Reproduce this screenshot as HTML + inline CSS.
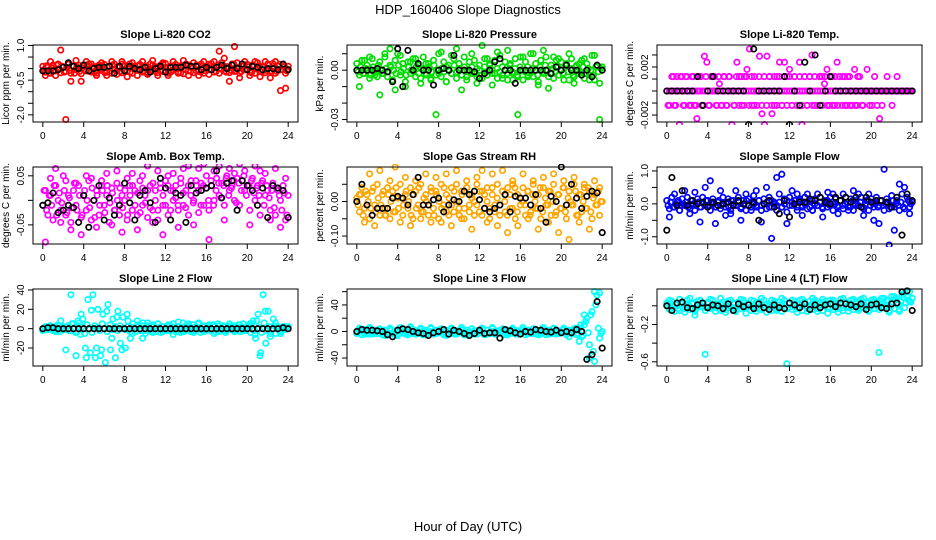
<!DOCTYPE html>
<html><head><meta charset="utf-8"><title>HDP_160406 Slope Diagnostics</title>
<style>
html,body{margin:0;padding:0;background:#fff;}
svg{display:block;font-family:"Liberation Sans",Arial,sans-serif;}
</style></head>
<body>
<svg id="chart" width="936" height="540" viewBox="0 0 936 540">
<text x="468" y="14" text-anchor="middle" font-size="13">HDP_160406  Slope Diagnostics</text>
<text x="468" y="531" text-anchor="middle" font-size="13">Hour of Day (UTC)</text>
</svg>
<script>
const xTicks=[0,4,8,12,16,20,24];
const titles=["Slope Li-820 CO2","Slope Li-820 Pressure","Slope Li-820 Temp.","Slope Amb. Box Temp.","Slope Gas Stream RH","Slope Sample Flow","Slope Line 2 Flow","Slope Line 3 Flow","Slope Line 4 (LT) Flow"];
const yTitles=["Licor ppm per min.","kPa per min.","degrees C per min.","degrees C per min.","percent per min.","ml/min per min.","ml/min per min.","ml/min per min.","ml/min per min."];
const colors=["#ff0000","#00dd00","#ff00ff","#ff00ff","#ffa500","#0000ff","#00ffff","#00ffff","#00ffff"];
const yRanges=[[-2.31,1.02],[-0.0315,0.0153],[-0.00258,0.00383],[-0.089,0.068],[-0.123,0.10],[-1.22,1.12],[-38.6,41],[-52,64],[-0.645,0.18]];
const yTicks=[[-2,-1.5,-1,-0.5,0,0.5,1],[-0.03,-0.02,-0.01,0,0.01],[-0.002,-0.001,0,0.001,0.002,0.003],[-0.05,0,0.05],[-0.1,-0.05,0,0.05],[-1,-0.5,0,0.5,1],[-20,0,20,40],[-40,-20,0,20,40,60],[-0.6,-0.4,-0.2,0]];
const yLabelVals=[[-2,-0.5,1],[-0.03,0],[-0.002,0.002],[-0.05,0.05],[-0.1,0],[-1,0,1],[-20,0,20,40],[-40,0,40],[-0.6,-0.2]];
const yLabelText=[["-2.0","-0.5","1.0"],["-0.03","0.00"],["-0.002","0.002"],["-0.05","0.05"],["-0.10","0.00"],["-1.0","0.0","1.0"],["-20","0","20","40"],["-40","0","40"],["-0.6","-0.2"]];

const main1=[0.1,-0.15,0.05,-0.2,0.15,-0.1,0.2,-0.18,0.08,-0.12,0.18,-0.2,0.1,-0.05,0.15,-0.22,0.12,-0.1,0.2,-0.15,0.05,-0.2,0.15,-0.08,0.18,-0.15,0.1,-0.2,0.2,-0.1,0.05,-0.18,0.15,-0.12,0.2,-0.2,0.1,-0.05,0.18,-0.15,0.12,-0.2,0.2,-0.1,0.08,-0.18,0.15,-0.12,0.22,-0.2,0.1,-0.08,0.18,-0.15,0.12,-0.22,0.2,-0.1,0.05,-0.18,0.15,-0.12,0.2,-0.2,0.1,-0.05,0.22,-0.15,0.12,-0.2,0.25,-0.1,0.08,-0.18,0.2,-0.12,0.25,-0.2,0.1,-0.05,0.18,-0.15,0.15,-0.2,0.25,-0.1,0.08,-0.18,0.2,-0.12,0.22,-0.2,0.1,-0.05,0.15,-0.2,0.1];
const dense1=[-0.05,0.12,-0.18,0.02,-0.1,0.15,-0.02,0.1,-0.15,0.05,-0.08,0.12,-0.2,0.08,-0.12,0.02,-0.05,0.15,-0.1,0.08,-0.15,0.1,-0.02,0.12,-0.18,0.05,-0.1,0.15,-0.05,0.08,-0.12,0.2,-0.08,0.05,-0.15,0.1,-0.02,0.12,-0.1,0.05,-0.15,0.08,-0.05,0.15,-0.12,0.02,-0.08,0.18,-0.1,0.05,-0.15,0.12,-0.02,0.08,-0.18,0.1,-0.05,0.15,-0.12,0.05,-0.08,0.12,-0.15,0.02,-0.1,0.18,-0.05,0.08,-0.12,0.15,-0.02,0.1,-0.15,0.05,-0.08,0.2,-0.1,0.05,-0.12,0.15,-0.05,0.08,-0.18,0.1,-0.02,0.12,-0.15,0.05,-0.08,0.15,-0.1,0.02,-0.12,0.18,-0.05,0.08,-0.1];
const extra1=[-0.3,0.3,-0.3,0.8,-2.2,-0.55,0.35,-0.55,0.3,0.2,-0.3,0.25,-0.3,0.3,-0.25,0.3,-0.35,0.25,-0.3,0.3,-0.25,0.35,-0.3,0.25,-0.3,0.3,-0.2,0.35,-0.3,0.25,-0.3,0.3,-0.25,0.3,0.75,0.45,-0.55,0.95,-0.4,0.3,-0.3,0.3,-0.35,0.3,-0.4,0.3,-0.95,-0.85];
const black1=[-0.1,-0.1,-0.1,-0.05,0.05,0.25,0.1,0,0.15,-0.1,0,0.05,0.05,0.1,-0.2,0.1,-0.1,0.1,0,-0.05,0.05,-0.15,0,0.1,-0.15,0.05,0.05,0.05,0.15,0.1,0.1,-0.05,0.05,-0.05,0.05,0.15,0,0.15,0,0.2,-0.05,0.1,0.05,-0.05,0,0,-0.05,0.2,-0.05];

const main2=[0.004,-0.003,0.006,-0.002,0.003,-0.005,0.007,0,-0.004,0.005,-0.002,0.008,-0.004,0.003,-0.006,0.006,0.01,-0.003,0.004,-0.007,0.005,-0.002,0.007,-0.004,0.003,-0.005,0.008,-0.002,0.004,-0.006,0.006,-0.003,0.01,-0.004,0.005,-0.007,0.003,-0.002,0.007,-0.005,0.004,-0.003,0.008,-0.006,0.005,-0.002,0.006,-0.004,0.003,-0.005,0.007,-0.003,0.004,-0.002,0.006,-0.005,0.009,-0.003,0.005,-0.006,0.004,-0.002,0.007,-0.004,0.008,-0.006,0.005,-0.003,0.01,-0.004,0.004,-0.007,0.006,-0.002,0.008,-0.004,0.003,-0.005,0.006,-0.003,0.005,-0.002,0.004,-0.006,0.007,-0.004,0.003,-0.002,0.006,-0.005,0.004,-0.003,0.009,-0.006,0.003,-0.008,0.002];
const dense2=[-0.001,0.002,-0.002,0.001,0,-0.003,0.002,-0.001,0.003,0,-0.002,0.001,-0.001,0.002,0,-0.002,0.003,-0.001,0.001,-0.003,0.002,0,-0.001,0.002,-0.002,0.001,0,-0.003,0.002,-0.001,0.003,0,-0.002,0.001,-0.001,0.002,0,-0.002,0.003,-0.001,0.001,-0.003,0.002,0,-0.001,0.002,-0.002,0.001,0,-0.003,0.002,-0.001,0.003,0,-0.002,0.001,-0.001,0.002,0,-0.002,0.003,-0.001,0.001,-0.003,0.002,0,-0.001,0.002,-0.002,0.001,0,-0.003,0.002,-0.001,0.003,0,-0.002,0.001,-0.001,0.002,0,-0.002,0.003,-0.001,0.001,-0.003,0.002,0,-0.001,0.002,-0.002,0.001,0,-0.003,0.002,-0.001,0.001];
const extra2=[-0.01,0.006,0.008,-0.003,-0.015,0.01,0.013,-0.012,0.009,-0.01,0.005,0.007,-0.008,0.004,-0.005,-0.027,0.011,-0.007,0.009,0.013,-0.012,-0.004,0.01,-0.008,0.015,0.007,-0.009,0.011,-0.005,0.012,-0.006,-0.027,0.008,-0.004,0.01,-0.009,0.012,-0.011,0.008,0.007,-0.006,0.01,-0.008,0.004,0.007,-0.006,0.009,-0.03];
const black2=[0,0,0,0,0.001,0,-0.001,-0.007,0.013,-0.01,0.012,0,0.004,0,0,-0.009,0,0.001,0,0.009,0,0,0,-0.001,-0.005,-0.002,0,0.005,0.007,0,0,-0.008,0,0,0,0,0,0,-0.002,0.002,0,0.003,0,0,-0.003,0,-0.004,0.003,0];

const main3=[0,0,0,0,0,0,0,0,0,0,0,0,0,0,0,0,0,0,0,0,0,0,0,0,0,0,0,0,0,0,0,0,0,0,0,0,0,0,0,0,0,0,0,0,0,0,0,0,0,0,0,0,0,0,0,0,0,0,0,0,0,0,0,0,0,0,0,0,0,0,0,0,0,0,0,0,0,0,0,0,0,0,0,0,0,0,0,0,0,0,0,0,0,0,0,0,0];
const dense3=[-0.0012,0,0.0012,-0.0012,0,0.0012,-0.0012,0.0012,0,-0.0012,0.0012,-0.0012,0,0.0012,-0.0012,0.0012,-0.0012,0.0012,0,-0.0012,0.0012,-0.0012,0.0012,-0.0012,0.0012,0,-0.0012,0.0012,-0.0012,0.0012,-0.0012,0.0012,-0.0012,0.0012,-0.0012,0,0.0012,-0.0012,0.0012,-0.0012,0.0012,-0.0012,0.0012,-0.0012,0.0012,-0.0012,0.0012,-0.0012,0.0012,-0.0012,0.0012,-0.0012,0.0012,-0.0012,0.0012,-0.0012,0.0012,-0.0012,0.0012,-0.0012,0.0012,-0.0012,0.0012,-0.0012,0.0012,-0.0012,0.0012,-0.0012,0,0.0012,-0.0012,0.0012,-0.0012,0,-0.0012,0.0012,0,-0.0012,0,0,0,0,0,0,0,0,0,0,0,0,0,0,0,0,0,0,0];
const extra3=[-0.0012,0.0012,-0.0012,0.0012,-0.0028,0.0012,-0.0012,0.0012,-0.0012,0.0012,-0.0012,-0.0023,0.0012,-0.0012,0.0029,0.0024,-0.0012,0.0012,0.0012,-0.0012,0.0006,-0.0012,0.0012,-0.0012,0.0012,-0.0028,-0.0012,0.0024,0.0012,-0.0012,0.0012,0.0018,0.0035,-0.0012,0.0012,-0.0012,0.0029,-0.0019,-0.0028,0.0029,0.0012,-0.0019,-0.0012,0.0012,0.0024,-0.0012,0.0024,0.0012,0.0018,-0.0012,0.0012,-0.0012,0.0024,-0.0028,0.0012,-0.0012,0.0012,0.003,-0.0012,-0.0012,0.0012,0.0012,0.0006,0.0018,-0.0012,0.0012,-0.0012,0.0024,0.0012,-0.0012,0.0012,-0.0012,0.0012,-0.0012,0.0018,-0.0012,0.0012,-0.0012,0,0.0018,-0.0012,-0.0012,0.0012,-0.0012,-0.0023,-0.0012,0,0.0012,0,-0.0012,0,0.0012,0,0,0,0,0];
const black3=[0,0,0,0,0,0,0.0012,-0.0012,0,0.0012,0,0,0,0,0,0,-0.0028,0.0035,0,0,0,0,0,0.0012,-0.0028,0,-0.0012,0.0024,0,0.003,-0.0012,0,0.0012,0,0,0,0,0,0,0,0,0,0,0,0,0,0,0,0];

const main4=[-0.01,0.02,-0.03,0.01,-0.04,0.03,0,-0.02,0.05,-0.03,0.01,-0.045,0.02,-0.01,0.03,-0.035,0.01,-0.02,0.04,-0.04,0,0.02,-0.03,0.03,-0.01,0.01,-0.045,0.025,-0.02,0.035,-0.03,0.01,0,-0.04,0.03,-0.02,0.02,-0.03,0.04,-0.01,0.01,-0.035,0.03,-0.02,0.02,-0.04,0.035,-0.01,0.04,-0.03,0.02,0,0.03,-0.02,0.045,-0.01,0.02,-0.03,0.04,0,0.03,-0.025,0.035,-0.01,0.05,-0.02,0.03,0,0.045,0.01,0.035,-0.01,0.05,0.02,0.03,0,0.045,-0.01,0.04,0.02,0.03,-0.02,0.045,0,0.03,-0.03,0.04,0.01,0.02,-0.02,0.035,-0.03,0.02,0,0.03,-0.04,0.01];
const dense4=[0.02,-0.02,0.01,-0.01,0.03,-0.03,0.015,-0.005,0.02,-0.025,0.005,-0.015,0.035,-0.02,0.01,-0.03,0.02,0,-0.015,0.025,-0.035,0.01,-0.01,0.02,-0.025,0.03,-0.005,0.015,-0.02,0,0.025,-0.015,0.02,-0.03,0.01,0.03,-0.01,0.015,-0.025,0.025,-0.005,0.02,-0.015,0.035,0,-0.02,0.025,0.01,-0.01,0.03,-0.02,0.02,0.005,-0.01,0.035,0.015,-0.015,0.03,0.01,-0.005,0.04,0.02,-0.01,0.03,0.025,0,0.04,-0.01,0.02,0.035,0.005,0.03,0.045,0.01,0.025,0.04,-0.005,0.035,0.02,0.05,0.01,0.03,0.04,0.015,0.025,0.01,0.035,-0.01,0.03,0.005,0.02,-0.015,0.025,0.01,-0.02,0.015,-0.03];
const extra4=[-0.085,0.045,0.065,-0.045,0.04,-0.06,0.035,-0.07,0.05,0.045,-0.055,0.04,0.055,-0.05,0.06,-0.065,0.045,0.055,-0.06,0.05,0.07,-0.045,0.06,-0.07,0.05,0.055,-0.055,0.065,0.07,-0.05,0.065,0.075,-0.08,0.06,0.07,-0.04,0.065,0.055,0.075,0.06,-0.05,0.07,0.06,0.055,-0.04,0.065,-0.055,0.045];
const black4=[-0.01,-0.005,0.015,-0.025,-0.02,-0.01,-0.015,-0.045,0.01,-0.055,0,0.03,-0.04,0.005,-0.03,-0.01,0.035,-0.005,-0.04,0.01,0.02,-0.005,-0.045,0.045,0.025,-0.04,0.015,0.01,-0.045,0.03,0.015,0.02,0.025,0.03,0.06,0.005,0.035,0.04,-0.02,0.04,0.03,0.02,-0.01,0.025,-0.035,0.03,0.025,0.02,-0.035];

const main5=[0.01,-0.03,0.04,-0.02,0.02,-0.05,0.03,-0.01,0.05,-0.04,0.02,-0.02,0.04,-0.05,0.03,-0.03,0.01,0.05,-0.04,0.02,-0.02,0.04,-0.05,0.03,-0.01,0.05,-0.03,0.02,-0.04,0.04,-0.02,0.03,-0.05,0.05,-0.01,0.02,-0.04,0.04,-0.03,0.05,-0.02,0.03,-0.05,0.04,-0.01,0.02,-0.04,0.05,-0.03,0.03,-0.02,0.04,-0.05,0.02,-0.01,0.05,-0.04,0.03,-0.03,0.04,-0.02,0.05,-0.05,0.02,-0.01,0.04,-0.04,0.03,-0.03,0.05,-0.02,0.02,-0.05,0.04,-0.01,0.03,-0.04,0.05,-0.03,0.02,-0.02,0.04,-0.05,0.03,-0.01,0.05,-0.04,0.02,-0.03,0.04,-0.02,0.03,-0.05,0.02,-0.01,0.04,0];
const dense5=[-0.01,0.02,-0.04,0.03,0,-0.02,0.04,-0.03,0.01,-0.01,0.03,-0.04,0.02,0,-0.03,0.04,-0.02,0.01,-0.01,0.03,0,-0.04,0.02,-0.02,0.04,-0.03,0.01,0,-0.01,0.03,-0.04,0.02,0,-0.02,0.04,-0.03,0.01,-0.01,0.03,0,-0.04,0.02,-0.02,0.04,-0.03,0.01,0,-0.01,0.03,-0.04,0.02,0,-0.02,0.04,-0.03,0.01,-0.01,0.03,0,-0.04,0.02,-0.02,0.04,-0.03,0.01,0,-0.01,0.03,-0.04,0.02,0,-0.02,0.04,-0.03,0.01,-0.01,0.03,0,-0.04,0.02,-0.02,0.04,-0.03,0.01,0,-0.01,0.03,-0.04,0.02,0,-0.02,0.04,-0.03,0.01,-0.01,0.03,0];
const extra5=[0.02,-0.06,0.08,-0.07,0.09,-0.04,0.06,0.1,-0.06,0.07,-0.07,0.06,-0.05,0.08,-0.06,0.07,-0.06,0.08,-0.07,0.09,-0.05,0.06,-0.08,0.07,0.09,-0.06,0.08,-0.07,0.09,-0.09,0.06,-0.07,0.08,-0.05,0.06,-0.08,0.07,-0.06,0.08,-0.09,0.06,-0.11,0.07,-0.06,0.05,-0.08,0.06,-0.04];
const black5=[0,0.05,-0.01,-0.04,-0.02,-0.02,-0.02,0.01,0.015,0.01,-0.01,0.02,0.07,-0.01,-0.01,0.005,0.01,-0.03,-0.01,0.005,0,0.03,0.02,0.03,0.005,-0.02,-0.03,-0.02,-0.01,0.02,-0.03,0.015,0.01,0.01,-0.01,0.02,-0.02,-0.06,0.015,0,0.1,-0.01,0.05,0.01,-0.02,0.015,0.03,0.025,-0.09];

const main6=[0.1,-0.15,0.2,-0.1,0.05,-0.2,0.15,-0.05,0.2,-0.15,0.1,-0.2,0.15,-0.1,0.2,-0.05,0.1,-0.2,0.15,-0.1,0.05,-0.15,0.2,-0.1,0.15,-0.2,0.1,-0.05,0.2,-0.15,0.1,-0.2,0.15,-0.1,0.25,-0.05,0.1,-0.2,0.15,-0.15,0.2,-0.1,0.05,-0.2,0.3,-0.1,0.15,-0.25,0.2,-0.05,0.1,-0.2,0.15,-0.1,0.2,-0.15,0.1,-0.2,0.15,-0.05,0.2,-0.15,0.1,-0.1,0.2,-0.2,0.15,-0.05,0.1,-0.15,0.2,-0.1,0.15,-0.2,0.1,-0.05,0.2,-0.15,0.1,-0.2,0.15,-0.1,0.2,-0.05,0.1,-0.2,0.15,-0.15,0.25,-0.1,0.1,-0.2,0.3,-0.15,0.2,-0.1,0.05];
const dense6=[-0.05,0.05,-0.1,0,0.1,-0.05,0,0.05,-0.1,0.1,0,-0.05,0.05,-0.1,0,0.1,-0.05,0.05,0,-0.1,0.1,-0.05,0,0.05,-0.1,0.1,0,-0.05,0.05,-0.1,0,0.1,-0.05,0.05,0,-0.1,0.1,-0.05,0,0.05,-0.1,0.1,0,-0.05,0.05,-0.1,0,0.1,-0.05,0.05,0,-0.1,0.1,-0.05,0,0.05,-0.1,0.1,0,-0.05,0.05,-0.1,0,0.1,-0.05,0.05,0,-0.1,0.1,-0.05,0,0.05,-0.1,0.1,0,-0.05,0.05,-0.1,0,0.1,-0.05,0.05,0,-0.1,0.1,-0.05,0,0.05,-0.1,0.1,0,-0.05,0.05,-0.1,0,0.1,0];
const extra6=[-0.4,0.3,-0.2,0.4,-0.3,0.35,-0.55,0.5,0.7,-0.6,0.4,-0.35,-0.3,0.4,-0.5,0.3,-0.2,0.4,-0.55,0.5,-1.05,0.8,0.9,-0.6,0.4,0.3,-0.35,0.3,-0.2,0.3,-0.4,0.35,0.3,-0.3,0.3,-0.2,0.4,0.3,-0.35,0.3,-0.5,-0.6,1.05,-1.25,-0.8,0.6,0.5,-0.3];
const black6=[-0.8,0.8,-0.05,0.4,-0.05,0.1,0,0.05,-0.1,0.05,-0.05,0,0.05,-0.05,0.1,0,-0.05,0.05,-0.5,0,0.1,-0.1,-0.3,0.1,-0.4,0,0.05,0.05,0.15,0.1,0.2,0.05,0,0.2,0.1,0.2,0.05,0.2,-0.1,0.2,0.05,0.1,0.1,0.05,-0.1,0.2,-0.95,0.3,0.1];

const main7=[-2,2,-1,3,-2,1,4,-3,2,-1,3,-2,5,-4,8,-6,10,-20,30,-25,35,-30,20,-28,15,-35,25,-22,10,-30,18,-15,12,-20,8,-10,5,-3,4,-2,6,-5,3,-2,4,-3,5,-4,2,-1,3,-2,5,-3,2,-4,6,-2,3,-3,4,-2,5,-4,2,-1,3,-2,4,-3,5,-2,3,-4,2,-1,3,-2,4,-3,5,-2,3,-4,8,-10,15,-25,35,-15,18,-5,10,-5,2,-3,2,-1,2];
const dense7=[1,-1,2,0,-2,1,3,-1,0,2,-2,5,1,-3,6,2,-5,4,0,-4,3,1,-2,5,0,-3,4,-1,2,-2,3,0,-1,2,-3,1,0,2,-1,3,-2,1,0,2,-3,1,-1,2,0,-2,3,1,-1,2,-2,0,3,-1,1,-2,2,0,-1,3,-2,1,0,2,-1,-3,1,2,-2,0,3,-1,1,-2,2,0,-1,3,5,-2,8,1,-4,6,-2,2,-1,3,0,-2,1,0,1];
const extra7=[1,3,-3,8,-22,35,-28,15,-30,19,-20,-22,18,-10,12,-22,15,-5,8,-10,6,-4,5,-3,4,-6,7,-3,5,-4,6,-3,4,-5,3,-2,5,-3,4,-2,5,-6,-28,18,-8,6,-5,2];
const black7=[0,1,1,0,0,0,0,0,0,0,0,0,0,0,0,0,0,0,0,0,0,0,0,0,0,0,0,0,0,0,0,0,0,0,0,0,0,0,0,0,0,0,0,0,0,0,0,1,0];

const main8=[-3,2,-5,3,-2,4,-4,1,-3,3,-5,2,-2,4,-4,1,-6,3,-2,2,-5,4,-3,1,-2,3,-5,2,-3,4,-4,1,-2,3,-5,2,-3,4,-4,1,-2,3,-5,2,-3,4,-4,1,-2,3,-5,2,-3,4,-4,1,-2,3,-5,2,-3,4,-4,1,-2,3,-5,2,-3,4,-4,1,-2,3,-5,2,-3,4,-4,1,-2,3,-5,2,-3,0,-5,5,-8,10,20,-20,30,-45,55,-10,0];
const dense8=[-1,0,-2,1,-4,0,-1,2,-3,0,-2,1,-4,2,-1,0,-3,1,-2,-1,0,-3,2,-2,0,-4,1,-1,-2,0,-3,2,-1,-2,0,-4,1,-1,-3,0,-2,2,-1,-3,0,-2,1,-4,0,-1,-2,2,-3,0,-1,-2,1,-4,0,-2,-1,2,-3,0,-1,-2,1,-3,0,-2,-1,2,-4,0,-1,-2,1,-3,0,-2,-1,2,-3,0,-1,-2,5,-3,10,-6,15,-2,25,-30,40,5,-3];
const extra8=[5,-4,6,-3,4,-6,5,-5,6,-4,7,-4,5,-5,6,-3,4,-6,5,-4,6,-5,4,-3,5,-4,6,-3,4,-5,5,-4,6,-3,4,-5,6,-4,5,-3,5,-8,4,-15,25,-40,60,58];
const black8=[0,3,2,2,1,0,-5,-8,2,4,3,0,-2,-3,-6,-2,0,3,-4,2,0,-3,-6,-3,2,-3,-2,-2,-10,3,1,-2,-4,0,-1,3,2,0,-1,2,-2,0,-2,3,0,-42,-35,45,-25];

const main9=[0.03,-0.04,0.05,-0.02,0.01,-0.05,0.04,-0.03,0.06,-0.04,0.02,-0.06,0.05,-0.01,0.03,-0.05,0.04,-0.03,0.06,-0.02,0.01,-0.05,0.04,-0.04,0.05,-0.02,0.03,-0.06,0.04,-0.03,0.06,-0.01,0.02,-0.05,0.05,-0.03,0.04,-0.04,0.06,-0.02,0.01,-0.05,0.05,-0.03,0.04,-0.06,0.06,-0.02,0.03,-0.04,0.05,-0.03,0.06,-0.05,0.04,-0.02,0.05,-0.04,0.06,-0.03,0.04,-0.05,0.05,-0.02,0.06,-0.04,0.03,-0.03,0.07,-0.05,0.04,-0.02,0.06,-0.04,0.05,-0.03,0.07,-0.02,0.04,-0.05,0.06,-0.03,0.05,-0.04,0.08,-0.02,0.06,-0.05,0.1,-0.03,0.07,-0.04,0.12,-0.02,0.1,0.05,0.08];
const dense9=[0,0.02,-0.02,0.01,-0.03,0.03,-0.01,0.02,0,-0.02,0.03,-0.03,0.01,0,0.02,-0.02,0.03,-0.01,0,0.02,-0.03,0.01,-0.02,0.03,0,-0.01,0.02,-0.03,0.01,0,0.03,-0.02,0.02,-0.01,0,0.03,-0.03,0.01,-0.02,0.02,0,-0.01,0.03,-0.02,0.01,0,0.02,-0.03,0.03,-0.01,0,0.02,-0.02,0.01,0.03,-0.03,0,0.02,-0.01,0.03,-0.02,0.01,0,0.02,-0.03,0.03,-0.01,0.01,0.02,-0.02,0.04,0,0.02,-0.01,0.03,-0.02,0.04,0.01,0,0.03,-0.02,0.04,0.01,-0.01,0.05,0.02,0,0.06,-0.01,0.04,0.08,0.02,0.05,0.09,0.03,0.06,0.04];
const extra9=[0.06,-0.06,0.07,-0.07,0.08,-0.1,0.06,-0.52,0.07,-0.06,0.08,-0.07,0.06,-0.05,0.07,-0.08,0.06,-0.06,0.08,-0.07,0.06,-0.05,0.08,-0.62,0.06,-0.07,0.07,-0.06,0.08,-0.06,0.07,-0.08,0.06,-0.07,0.08,-0.06,0.07,-0.05,0.08,-0.06,0.07,-0.5,0.08,-0.07,0.1,-0.06,0.14,0.15];
const black9=[0,-0.05,0.03,0.04,-0.02,-0.03,0.01,0.03,-0.02,0.01,0,-0.03,0.02,-0.05,0.02,-0.01,0.01,-0.03,0.02,-0.02,-0.04,0.01,-0.02,-0.03,0.03,0.01,-0.02,0.02,-0.04,0.01,-0.02,0.01,0.02,-0.01,0.03,0.02,0.01,-0.01,0.02,-0.04,0.01,0.02,-0.02,-0.03,0.02,0.03,0.15,0.16,-0.05];

const mains=[main1,main2,main3,main4,main5,main6,main7,main8,main9];
const denses=[dense1,dense2,dense3,dense4,dense5,dense6,dense7,dense8,dense9];
const extras=[extra1,extra2,extra3,extra4,extra5,extra6,extra7,extra8,extra9];
const blacks=[black1,black2,black3,black4,black5,black6,black7,black8,black9];

const NS="http://www.w3.org/2000/svg";
const svg=document.getElementById("chart");
const colLeft=[33,347,657], rowTop=[45,167,289], W=265, H=77;
function mk(tag,attrs,parent){const e=document.createElementNS(NS,tag);for(const k in attrs)e.setAttribute(k,attrs[k]);(parent||svg).appendChild(e);return e;}

for(let p=0;p<9;p++){
  const L=colLeft[p%3], T=rowTop[Math.floor(p/3)];
  const x0=L+W*0.04/1.08;
  const xs=h=>x0+h*(W/1.08)/24;
  const [ymin,ymax]=yRanges[p];
  const ys=v=>T+H-(v-ymin)/(ymax-ymin)*H;
  const g=mk("g",{});
  
  
  const clip=mk("clipPath",{id:"clip"+p},g);
  mk("rect",{x:L-3,y:T-3,width:W+6,height:H+6},clip);
  const marks=mk("g",{"clip-path":"url(#clip"+p+")"},g);
  
  
  const col=colors[p];
  const drawPt=(h,v,c,name)=>{
    const c1=mk("circle",{cx:xs(h).toFixed(1),cy:ys(v).toFixed(1),r:2.7,fill:"none",stroke:c,"stroke-width":1.7},marks);
    
    
  };
  const m=mains[p];
  m.forEach((v,i)=>drawPt(i*24/(m.length-1),v,col,'point'));
  const d=denses[p];
  d.forEach((v,i)=>drawPt(0.125+i*23.75/(d.length-1),v,col,'point'));
  const e=extras[p];
  e.forEach((v,i)=>drawPt(0.25+i*23.5/(e.length-1),v,col,'point'));
  const b=blacks[p];
  b.forEach((v,i)=>drawPt(i*24/(b.length-1),v,"#000",'black-point'));
  const box=mk("rect",{x:L,y:T,width:W,height:H,fill:"none",stroke:"#000","stroke-width":1},g);
  
  
  const tt=mk("text",{x:L+W/2,y:T-7,"text-anchor":"middle","font-size":11,"font-weight":"bold"},g);
  tt.textContent=titles[p];
  
  
  xTicks.forEach(t=>{
    mk("line",{x1:xs(t),x2:xs(t),y1:T+H,y2:T+H+5,stroke:"#000"},g);
    const lb=mk("text",{x:xs(t),y:T+H+17,"text-anchor":"middle","font-size":10},g);
    lb.textContent=t;
    
    
  });
  yTicks[p].forEach(t=>{
    if(t<ymin||t>ymax) return;
    mk("line",{x1:L-5,x2:L,y1:ys(t),y2:ys(t),stroke:"#000"},g);
  });
  yLabelVals[p].forEach((t,i)=>{
    const yy=ys(t), xx=L-9;
    const lb=mk("text",{x:xx,y:yy,"text-anchor":"middle","font-size":10,transform:"rotate(-90 "+xx+" "+yy+")"},g);
    lb.textContent=yLabelText[p][i];
    
    
  });
  const yx=L-24, yy=T+H/2;
  const yt=mk("text",{x:yx,y:yy,"text-anchor":"middle","font-size":10,transform:"rotate(-90 "+yx+" "+yy+")"},g);
  yt.textContent=yTitles[p];
  
  
}
</script>
</body></html>
